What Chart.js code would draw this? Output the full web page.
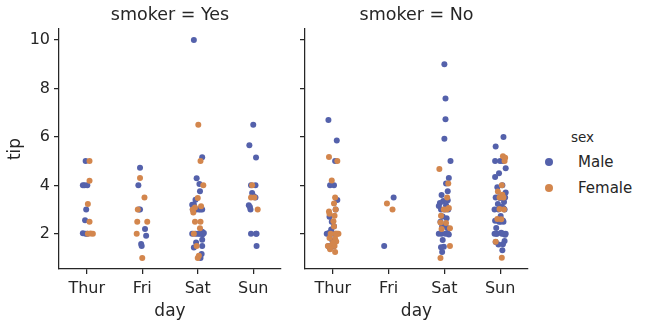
<!DOCTYPE html>
<html>
<head>
<meta charset="utf-8">
<script src="https://cdn.jsdelivr.net/npm/chart.js@4.4.1/dist/chart.umd.min.js"></script>
<style>
  body { margin: 0; background: #fff; }
  #wrap { position: relative; width: 650px; height: 326px; font-family: 'DejaVu Sans', sans-serif; color: #262626; }
  canvas { position: absolute; top: 0; }
  #c1 { left: 0; }
  #c2 { left: 290px; }
  .leg-title { position: absolute; left: 571px; top: 128px; font-size: 13.5px; line-height: 18px; }
  .leg-dot { position: absolute; left: 545px; width: 8px; height: 8px; border-radius: 50%; }
  .leg-text { position: absolute; left: 578px; font-size: 15px; line-height: 18px; }
</style>
</head>
<body>
<div id="wrap">
  <canvas id="c1" width="290" height="326"></canvas>
  <canvas id="c2" width="250" height="326"></canvas>
  <div id="legend"></div>
</div>
<script>
const days = ['Thur', 'Fri', 'Sat', 'Sun'];
const sexes = ['Male', 'Female'];
const smokers = ['Yes', 'No'];
const yTicks = [2, 4, 6, 8, 10];
const colors = ['#5461ab', '#d3864d'];

// tips, smoker = Yes (one list per day: Thur, Fri, Sat, Sun)
const yesMale = [
  [5.0, 4.0, 4.0, 4.0, 3.0, 2.56, 2.02, 2.0, 2.0],
  [4.73, 4.0, 3.0, 3.0, 2.2, 1.92, 1.58, 1.5],
  [10.0, 5.16, 4.29, 4.06, 3.76, 3.41, 3.21, 3.0, 3.0, 3.0, 3.0, 3.0, 2.09, 2.03, 2.0, 2.0, 2.0, 2.0, 1.98, 1.76, 1.64, 1.5, 1.44, 1.17, 1.0, 3.2, 2.0],
  [6.5, 5.65, 5.15, 4.0, 4.0, 3.68, 3.55, 3.5, 3.18, 3.11, 3.0, 2.0, 2.0, 2.0, 1.5]
];
const yesMaleJitter = [
  [-0.02, -0.07, -0.04, 0.01, -0.01, -0.03, -0.07, -0.02, 0.01],
  [-0.04, -0.07, -0.04, -0.06, 0.05, 0.07, -0.02, -0.01],
  [-0.07, 0.08, -0.02, 0.03, 0.04, -0.04, -0.07, -0.09, -0.03, 0.02, 0.08, 0.05, 0.08, 0.11, -0.1, -0.04, 0.0, 0.06, 0.09, 0.08, -0.03, 0.08, -0.07, 0.07, 0.05, -0.1, 0.03],
  [0.0, -0.07, 0.05, 0.04, -0.04, -0.02, 0.01, 0.04, -0.08, -0.06, -0.05, -0.04, 0.06, 0.05, 0.06]
];
const yesFemale = [
  [5.0, 4.19, 3.23, 2.5, 2.0, 2.01, 2.0],
  [4.3, 3.5, 3.0, 2.5, 2.5, 2.0, 1.0],
  [6.5, 5.0, 4.0, 3.48, 3.14, 3.09, 3.0, 2.88, 2.5, 2.5, 2.23, 2.0, 1.5, 1.1, 1.0],
  [4.0, 3.5, 3.5, 3.0]
];
const yesFemaleJitter = [
  [0.05, 0.05, 0.02, 0.05, 0.02, 0.07, 0.11],
  [-0.04, 0.04, -0.08, -0.09, 0.09, -0.1, 0.0],
  [0.01, 0.05, 0.1, 0.0, 0.06, -0.05, -0.09, -0.08, -0.05, 0.05, 0.04, -0.07, -0.02, 0.02, 0.0],
  [-0.02, -0.04, 0.02, 0.08]
];

// tips, smoker = No
const noMale = [
  [4.0, 3.0, 2.71, 3.4, 2.03, 2.0, 4.0, 5.85, 2.31, 2.5, 2.0, 1.48, 2.18, 1.5, 2.0, 6.7, 5.0, 1.73, 2.0, 1.44],
  [3.5, 1.5],
  [9.0, 7.58, 6.73, 5.92, 5.0, 4.3, 4.08, 3.76, 3.6, 3.39, 3.35, 3.27, 3.18, 3.15, 3.0, 3.0, 3.0, 2.72, 2.64, 2.5, 2.34, 2.31, 2.24, 2.01, 2.0, 2.0, 2.0, 1.97, 1.75, 1.47, 1.45, 1.25],
  [1.66, 3.5, 3.31, 4.71, 2.0, 3.12, 1.96, 3.23, 1.71, 1.57, 3.0, 3.92, 3.71, 2.54, 3.06, 1.32, 5.6, 3.0, 5.0, 6.0, 2.05, 3.0, 2.5, 1.56, 4.34, 3.51, 4.0, 2.55, 5.07, 2.5, 2.0, 2.74, 2.0, 2.0, 5.0, 2.0, 3.5, 2.5, 2.0, 3.48, 2.24, 4.5, 5.0]
];
const noMaleJitter = [
  [-0.05, 0.05, -0.06, 0.08, -0.07, -0.11, 0.02, 0.07, 0.02, -0.02, -0.08, 0.01, -0.03, -0.08, 0.03, -0.08, 0.04, -0.01, -0.02, -0.06],
  [0.09, -0.08],
  [0.0, 0.02, 0.02, 0.0, 0.11, 0.08, 0.03, 0.06, -0.05, 0.06, -0.02, -0.08, 0.03, -0.1, -0.06, 0.01, 0.07, -0.03, 0.04, -0.07, 0.01, -0.04, 0.05, 0.06, -0.1, -0.05, 0.02, 0.08, -0.03, -0.01, -0.06, -0.04],
  [-0.08, -0.08, 0.07, 0.1, -0.06, 0.03, 0.09, -0.04, 0.08, 0.05, -0.1, -0.05, 0.1, -0.09, 0.06, 0.04, -0.08, 0.08, -0.09, 0.06, 0.02, -0.03, 0.06, -0.03, -0.09, -0.03, 0.04, 0.05, 0.07, -0.02, -0.06, 0.01, 0.03, 0.1, 0.0, -0.1, 0.09, 0.01, 0.06, 0.0, -0.07, -0.02, 0.05]
];
const noFemale = [
  [1.83, 5.17, 1.5, 1.8, 2.92, 1.68, 2.52, 4.2, 2.0, 2.0, 2.83, 1.5, 2.0, 3.25, 1.25, 2.0, 2.0, 2.75, 3.5, 5.0, 2.3, 1.5, 1.36, 1.63, 3.0],
  [3.25, 3.0],
  [4.67, 4.08, 3.5, 3.07, 3.0, 3.0, 2.75, 2.47, 2.45, 2.23, 2.2, 1.5, 1.0],
  [1.01, 3.61, 5.0, 3.02, 1.67, 3.5, 2.6, 5.2, 4.0, 3.5, 5.14, 3.75, 2.61, 3.0]
];
const noFemaleJitter = [
  [-0.06, -0.07, -0.09, 0.04, -0.07, 0.06, 0.01, -0.02, 0.05, 0.08, -0.06, -0.02, 0.1, 0.02, 0.04, -0.04, 0.06, 0.03, 0.04, 0.08, 0.02, 0.03, -0.05, 0.0, 0.05],
  [-0.03, 0.07],
  [-0.09, 0.07, 0.05, 0.08, 0.04, -0.01, -0.06, -0.07, 0.03, 0.1, -0.05, 0.1, -0.07],
  [0.03, 0.04, 0.08, -0.01, -0.08, -0.01, 0.02, 0.05, 0.03, 0.06, 0.09, -0.04, -0.05, 0.07]
];

const panels = [
  { tips: [yesMale, yesFemale], jitter: [yesMaleJitter, yesFemaleJitter] },
  { tips: [noMale, noFemale], jitter: [noMaleJitter, noFemaleJitter] }
];

const ink = '#262626';
const font = 'DejaVu Sans';

function points(tips, jitter) {
  const out = [];
  tips.forEach((list, d) => {
    list.forEach((v, i) => out.push({ x: d + jitter[d][i], y: v }));
  });
  return out;
}

function makeChart(id, p) {
  const panel = panels[p];
  const first = p === 0;
  new Chart(document.getElementById(id), {
    type: 'scatter',
    data: {
      datasets: sexes.map((s, k) => ({
        label: s,
        data: points(panel.tips[k], panel.jitter[k]),
        backgroundColor: colors[k],
        borderWidth: 0,
        pointRadius: 3,
        order: k === 0 ? 1 : 0 // female drawn on top, as in the original
      }))
    },
    options: {
      responsive: false,
      animation: false,
      layout: { padding: { left: 0, right: first ? 9 : 12, top: 0, bottom: 0 } },
      plugins: {
        legend: { display: false },
        tooltip: { enabled: false },
        title: {
          display: true,
          text: 'smoker = ' + smokers[p],
          fullSize: false,
          color: ink,
          font: { family: font, size: 17.5, weight: 'normal' },
          padding: { top: 5, bottom: 3 }
        }
      },
      scales: {
        x: {
          type: 'linear',
          min: -0.5,
          max: 3.5,
          afterBuildTicks: s => { s.ticks = days.map((_, i) => ({ value: i })); },
          afterFit: s => { s.height = 57; },
          ticks: {
            callback: v => days[v],
            color: ink,
            padding: 5,
            maxRotation: 0,
            autoSkip: false,
            font: { family: font, size: 16 }
          },
          grid: { drawOnChartArea: false, tickLength: 5, color: ink, lineWidth: 1.25 },
          border: { color: ink, width: 1.25 },
          title: {
            display: true,
            text: 'day',
            color: ink,
            font: { family: font, size: 17 },
            padding: { bottom: 4 }
          }
        },
        y: {
          min: 0.55,
          max: 10.45,
          afterBuildTicks: s => { s.ticks = yTicks.map(v => ({ value: v })); },
          afterFit: s => { s.width = first ? 59 : 15; },
          ticks: {
            callback: v => first ? String(v) : '',
            color: ink,
            padding: 4,
            autoSkip: false,
            font: { family: font, size: 16 }
          },
          grid: { drawOnChartArea: false, tickLength: 5, color: ink, lineWidth: 1.25 },
          border: { color: ink, width: 1.25 },
          title: {
            display: first,
            text: 'tip',
            color: ink,
            font: { family: font, size: 17 },
            padding: { top: 5 }
          }
        }
      }
    }
  });
}

makeChart('c1', 0);
makeChart('c2', 1);

// legend (hue = sex)
const legend = document.getElementById('legend');
const lt = document.createElement('div');
lt.className = 'leg-title';
lt.textContent = 'sex';
legend.appendChild(lt);
sexes.forEach((s, k) => {
  const cy = 162 + k * 26;
  const dot = document.createElement('div');
  dot.className = 'leg-dot';
  dot.style.top = (cy - 4) + 'px';
  dot.style.background = colors[k];
  legend.appendChild(dot);
  const t = document.createElement('div');
  t.className = 'leg-text';
  t.style.top = (cy - 9) + 'px';
  t.textContent = s;
  legend.appendChild(t);
});
</script>
</body>
</html>
